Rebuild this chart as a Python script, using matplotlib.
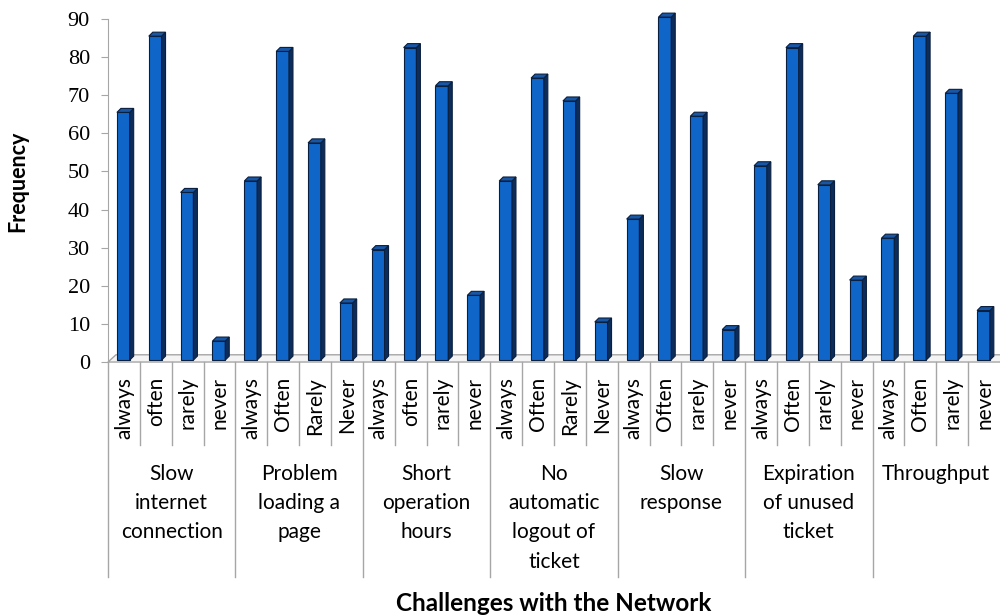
import matplotlib
matplotlib.use("Agg")
import matplotlib.pyplot as plt
from matplotlib.patches import Polygon

challenges = [
    "Slow\ninternet\nconnection",
    "Problem\nloading a\npage",
    "Short\noperation\nhours",
    "No\nautomatic\nlogout of\nticket",
    "Slow\nresponse",
    "Expiration\nof unused\nticket",
    "Throughput",
]
answers = [
    ["always", "often", "rarely", "never"],
    ["always", "Often", "Rarely", "Never"],
    ["always", "often", "rarely", "never"],
    ["always", "Often", "Rarely", "Never"],
    ["always", "Often", "rarely", "never"],
    ["always", "Often", "rarely", "never"],
    ["always", "Often", "rarely", "never"],
]
freq = [
    [65, 85, 44, 5],
    [47, 81, 57, 15],
    [29, 82, 72, 17],
    [47, 74, 68, 10],
    [37, 90, 64, 8],
    [51, 82, 46, 21],
    [32, 85, 70, 13],
]

label_font = "Lato"
grid_grey = "#a6a6a6"

fig = plt.figure(figsize=(10, 6.16), dpi=100)
ax = fig.add_axes([0.108, 0.4123, 0.892, 0.5568])

n = sum(len(a) for a in answers)
ax.set_xlim(-0.5, n - 0.5)
ax.set_ylim(0, 90)

# pseudo-3d depth of the columns, in data units
dx, dy = 0.126, 1.05
lift = 0.5
width = 0.40

# floor of the 3d chart
fdx, fdy = 0.25, 1.9
floor = Polygon([(-0.5, 0), (n - 0.5, 0), (n - 0.5 + fdx, fdy), (-0.5 + fdx, fdy)],
                closed=True, facecolor="#f4f4f4", edgecolor=grid_grey, lw=1.0,
                zorder=1, clip_on=False)
ax.add_patch(floor)

values = [v for row in freq for v in row]
xs = list(range(n))
left = [x - 0.22 for x in xs]
bars = ax.bar(left, values, width=width, bottom=lift, align="edge",
              color="#0f66c8", edgecolor="#0a1f3d", lw=0.8, zorder=3)
for b in bars:
    b.set_clip_on(False)
for x0, v in zip(left, values):
    x1 = x0 + width
    top = v + lift
    side = Polygon([(x1, lift), (x1 + dx, lift + dy), (x1 + dx, top + dy), (x1, top)],
                   closed=True, facecolor="#0c2d5c", edgecolor="#0a1f3d", lw=0.8,
                   zorder=3, clip_on=False)
    cap = Polygon([(x0, top), (x1, top), (x1 + dx, top + dy), (x0 + dx, top + dy)],
                  closed=True, facecolor="#1856a6", edgecolor="#0a1f3d", lw=0.8,
                  zorder=3, clip_on=False)
    ax.add_patch(side)
    ax.add_patch(cap)

# y axis
for s in ["top", "right", "bottom"]:
    ax.spines[s].set_visible(False)
ax.spines["left"].set_color(grid_grey)
ax.set_yticks(range(0, 91, 10))
ax.tick_params(axis="y", direction="out", length=5, color=grid_grey,
               labelsize=16, pad=8)
for t in ax.get_yticklabels():
    t.set_fontfamily("Liberation Serif")
ax.set_xticks([])

# two-level category axis below the plot
trans = ax.get_xaxis_transform()
k = 0
for g, (name, labels) in enumerate(zip(challenges, answers)):
    start = k
    for lab in labels:
        ax.text(k, -0.044, lab, rotation=90, ha="center", va="top",
                fontsize=15, family=label_font, transform=trans)
        if k > start:
            ax.plot([k - 0.5, k - 0.5], [0, -0.242], color=grid_grey, lw=1,
                    transform=trans, clip_on=False)
        k += 1
    ax.plot([start - 0.5, start - 0.5], [0, -0.627], color=grid_grey, lw=1,
            transform=trans, clip_on=False)
    ax.text((start + k - 1) / 2, -0.297, name, ha="center", va="top",
            fontsize=15, family=label_font, linespacing=1.58,
            transform=trans, multialignment="center")

ax.text(0.5, -0.703, "Challenges with the Network", ha="center", va="center",
        fontsize=17.5, fontweight="bold", family=label_font, transform=ax.transAxes)
fig.text(0.018, 0.706, "Frequency", rotation=90, ha="center", va="center",
         fontsize=15.5, fontweight="bold", family=label_font)

fig.savefig("out.png", dpi=100)
